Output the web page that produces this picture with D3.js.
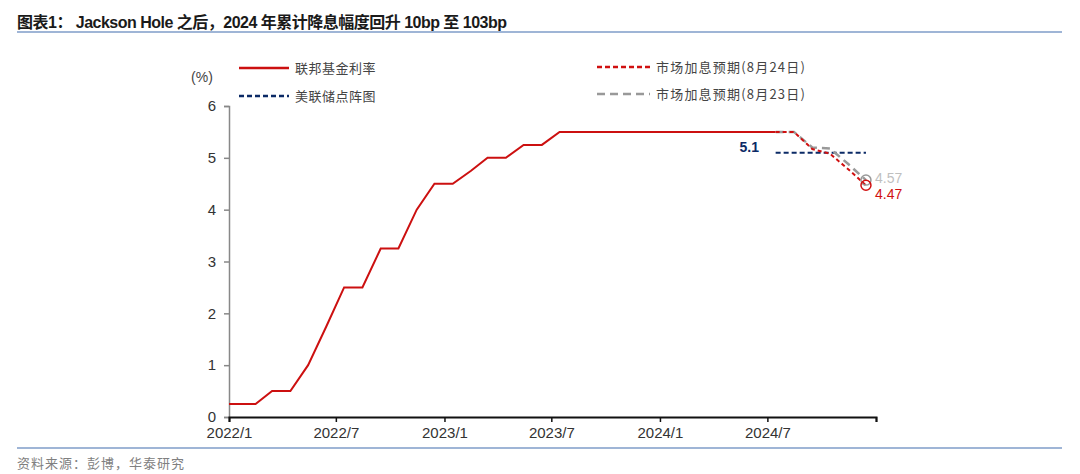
<!DOCTYPE html>
<html lang='en'>
  <head>
    <meta charset='utf-8'>
    <style>
      body { margin: 0; background: #fff; }
      svg { display: block; font-family: 'Liberation Sans', Arial, 'Noto Sans CJK SC', sans-serif; }
      .cjk { font-family: 'Noto Sans CJK SC', sans-serif; }
    </style>
  </head>
  <body>
    <div id='chart'></div>

    <script src='https://cdn.jsdelivr.net/npm/d3@7'></script>
    <script>
      // fed funds upper bound, mid-month points
      var ffDates = ['2022-01-01', '2022-02-15', '2022-03-15', '2022-04-15', '2022-05-15', '2022-06-15',
        '2022-07-15', '2022-08-15', '2022-09-15', '2022-10-15', '2022-11-15', '2022-12-15',
        '2023-01-15', '2023-02-15', '2023-03-15', '2023-04-15', '2023-05-15', '2023-06-15',
        '2023-07-15', '2023-08-15', '2023-09-15', '2023-10-15', '2023-11-15', '2023-12-15',
        '2024-01-15', '2024-02-15', '2024-03-15', '2024-04-15', '2024-05-15', '2024-06-15',
        '2024-07-15'];
      var ffRates = [0.25, 0.25, 0.5, 0.5, 1.0, 1.75,
        2.5, 2.5, 3.25, 3.25, 4.0, 4.5,
        4.5, 4.75, 5.0, 5.0, 5.25, 5.25,
        5.5, 5.5, 5.5, 5.5, 5.5, 5.5,
        5.5, 5.5, 5.5, 5.5, 5.5, 5.5,
        5.5];

      var expDates = ['2024-07-15', '2024-08-15', '2024-09-15', '2024-10-15', '2024-11-15', '2024-12-15'];
      var exp0824 = [5.5, 5.5, 5.17, 5.08, 4.78, 4.47];
      var exp0823 = [5.5, 5.5, 5.2, 5.18, 4.88, 4.57];

      var dotDates = ['2024-07-15', '2024-12-15'];
      var dotRates = [5.1, 5.1];

      var tickDates = ['2022-01-01', '2022-07-01', '2023-01-01', '2023-07-01', '2024-01-01', '2024-07-01', '2025-01-01'];
      var yTicks = [0, 1, 2, 3, 4, 5, 6];

      var legendNames = ['联邦基金利率', '美联储点阵图', '市场加息预期(8月24日)', '市场加息预期(8月23日)'];

      var width = 1080, height = 474;
      var parse = d3.utcParse('%Y-%m-%d');

      var svg = d3.select('#chart').append('svg')
          .attr('width', width)
          .attr('height', height);

      // title + rules
      svg.append('text')
          .attr('x', 17).attr('y', 28)
          .attr('font-size', 16).attr('font-weight', 'bold')
          .attr('fill', '#1a1a1a')
          .attr('textLength', 490).attr('lengthAdjust', 'spacing')
          .attr('font-family', "'Liberation Sans', 'Noto Sans CJK SC', sans-serif")
          .text('图表1：  Jackson Hole 之后，2024 年累计降息幅度回升 10bp 至 103bp');
      svg.append('line')
          .attr('x1', 17).attr('x2', 1062).attr('y1', 32).attr('y2', 32)
          .attr('stroke', '#7f9cc8').attr('stroke-width', 1.5);
      svg.append('line')
          .attr('x1', 17).attr('x2', 1062).attr('y1', 448).attr('y2', 448)
          .attr('stroke', '#7f9cc8').attr('stroke-width', 1.5);
      svg.append('text')
          .attr('class', 'cjk')
          .attr('x', 17).attr('y', 468)
          .attr('font-size', 13).attr('fill', '#808080')
          .attr('letter-spacing', 1)
          .text('资料来源：彭博，华泰研究');

      var x = d3.scaleUtc()
          .domain([parse('2022-01-01'), parse('2025-01-01')])
          .range([229, 876]);
      var y = d3.scaleLinear()
          .domain([0, 6])
          .range([417, 106]);

      // y axis
      var yAxis = svg.append('g')
          .attr('transform', 'translate(229,0)')
          .call(d3.axisLeft(y).tickValues(yTicks).tickFormat(d3.format('d')).tickSize(5).tickPadding(8));
      yAxis.select('.domain').attr('stroke', '#888').attr('stroke-width', 1.5);
      yAxis.selectAll('.tick line').attr('stroke', '#888').attr('stroke-width', 1.5);
      yAxis.selectAll('.tick text').attr('font-size', 15).attr('fill', '#333');

      svg.append('text')
          .attr('x', 202).attr('y', 82)
          .attr('text-anchor', 'middle')
          .attr('font-size', 14).attr('fill', '#444')
          .text('(%)');

      // x axis
      var xAxis = svg.append('g')
          .attr('transform', 'translate(0,417)')
          .call(d3.axisBottom(x)
            .tickValues(tickDates.map(parse))
            .tickSize(5)
            .tickPadding(5)
            .tickFormat(function (d) { return d.getUTCFullYear() === 2025 ? '' : d3.utcFormat('%Y/%-m')(d); }));
      xAxis.select('.domain').attr('stroke', '#111').attr('stroke-width', 2);
      xAxis.selectAll('.tick line').attr('stroke', '#111').attr('stroke-width', 1.5);
      xAxis.selectAll('.tick text').attr('font-size', 15).attr('fill', '#333');

      function series(dates, vals) {
        return dates.map(function (d, i) { return [parse(d), vals[i]]; });
      }
      var line = d3.line()
          .x(function (d) { return x(d[0]); })
          .y(function (d) { return y(d[1]); });

      svg.append('path')
          .datum(series(ffDates, ffRates))
          .attr('d', line)
          .attr('fill', 'none').attr('stroke', '#cc1010').attr('stroke-width', 2);

      svg.append('path')
          .datum(series(dotDates, dotRates))
          .attr('d', line)
          .attr('fill', 'none').attr('stroke', '#0b2a66').attr('stroke-width', 2)
          .attr('stroke-dasharray', '5,3');

      svg.append('path')
          .datum(series(expDates, exp0823))
          .attr('d', line)
          .attr('fill', 'none').attr('stroke', '#999').attr('stroke-width', 2.5)
          .attr('stroke-dasharray', '8,5');

      svg.append('path')
          .datum(series(expDates, exp0824))
          .attr('d', line)
          .attr('fill', 'none').attr('stroke', '#d01010').attr('stroke-width', 2)
          .attr('stroke-dasharray', '4,3');

      // end markers
      var last = expDates.length - 1;
      svg.append('circle')
          .attr('cx', x(parse(expDates[last]))).attr('cy', y(exp0823[last])).attr('r', 5)
          .attr('fill', 'none').attr('stroke', '#999').attr('stroke-width', 1.5);
      svg.append('circle')
          .attr('cx', x(parse(expDates[last]))).attr('cy', y(exp0824[last])).attr('r', 5)
          .attr('fill', 'none').attr('stroke', '#d01010').attr('stroke-width', 1.5);

      svg.append('text')
          .attr('x', x(parse(expDates[last])) + 9).attr('y', y(exp0823[last]) + 3)
          .attr('font-size', 14).attr('fill', '#bfbfbf')
          .text(exp0823[last]);
      svg.append('text')
          .attr('x', x(parse(expDates[last])) + 9).attr('y', y(exp0824[last]) + 14)
          .attr('font-size', 14).attr('fill', '#d01010')
          .text(exp0824[last]);
      svg.append('text')
          .attr('x', 759).attr('y', y(dotRates[0]) - 1)
          .attr('text-anchor', 'end')
          .attr('font-size', 14).attr('font-weight', 'bold').attr('fill', '#0b2a66')
          .text(dotRates[0]);

      // legend
      var legend = [
        { x: 239, y: 68, len: 50, color: '#cc1010', dash: null, ls: 0.5 },
        { x: 239, y: 96, len: 50, color: '#0b2a66', dash: '5,3', ls: 0.5 },
        { x: 597, y: 67, len: 53, color: '#d01010', dash: '5,3', ls: 1.2 },
        { x: 597, y: 94, len: 53, color: '#999', dash: '8,5', ls: 1.2 }
      ];
      legend.forEach(function (l, i) {
        svg.append('line')
            .attr('x1', l.x).attr('x2', l.x + l.len).attr('y1', l.y).attr('y2', l.y)
            .attr('stroke', l.color).attr('stroke-width', 2.5)
            .attr('stroke-dasharray', l.dash);
        svg.append('text')
            .attr('class', 'cjk')
            .attr('x', l.x + l.len + 6).attr('y', l.y + 5)
            .attr('font-size', 13).attr('fill', '#444')
            .attr('letter-spacing', l.ls)
            .text(legendNames[i]);
      });
    </script>
  </body>
</html>
